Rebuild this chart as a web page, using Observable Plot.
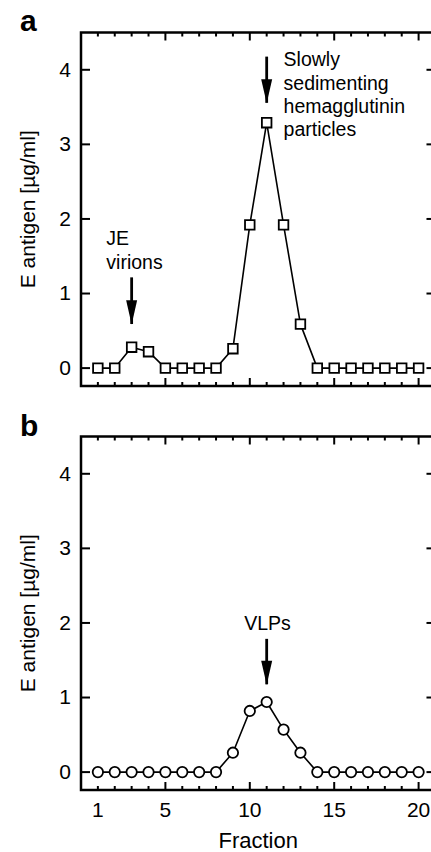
<!DOCTYPE html>
<html><head><meta charset="utf-8">
<script src="https://cdn.jsdelivr.net/npm/d3@7"></script>
<script src="https://cdn.jsdelivr.net/npm/@observablehq/plot@0.6"></script>
<style>
html,body{margin:0;padding:0;background:#fff;}
#wrap{width:431px;height:852px;overflow:hidden;}
#wrap svg{display:block;}
</style></head><body><div id="wrap"></div>
<script>
const fractions = [1,2,3,4,5,6,7,8,9,10,11,12,13,14,15,16,17,18,19,20];
const antigenA = [0,0,0.28,0.22,0,0,0,0,0.26,1.92,3.29,1.92,0.59,0,0,0,0,0,0,0];
const antigenB = [0,0,0,0,0,0,0,0,0.26,0.82,0.94,0.57,0.26,0,0,0,0,0,0,0];
const yTicks = [0,1,2,3,4];
const majorTicks = [5,10,15,20];
const minorTicks = [1,2,3,4,6,7,8,9,11,12,13,14,16,17,18,19];
const xTickLabels = [1,5,10,15,20];
const yLabel = "E antigen [µg/ml]";
const xLabel = "Fraction";

const notesA = [
  {x: 12.0, y: 4.27, text: "Slowly\nsedimenting\nhemagglutinin\nparticles", anchor: "start"},
  {x: 1.5, y: 1.87, text: "JE\nvirions", anchor: "start"}
];
const arrowsA = [
  {x: 11, top: 4.17, tip: 3.55},
  {x: 3, top: 1.21, tip: 0.585}
];
const notesB = [
  {x: 11.05, y: 2.13, text: "VLPs", anchor: "middle"}
];
const arrowsB = [
  {x: 11, top: 1.78, tip: 1.17}
];

const FONT = "'Liberation Sans', Arial, Helvetica, sans-serif";
const len = s => Math.sqrt(s / Math.PI);
const tickUp = {draw(c, s) { const r = len(s); c.moveTo(0, 0); c.lineTo(0, -r); }};
const tickDown = {draw(c, s) { const r = len(s); c.moveTo(0, 0); c.lineTo(0, r); }};
const tickRight = {draw(c, s) { const r = len(s); c.moveTo(0, 0); c.lineTo(r, 0); }};
const tickLeft = {draw(c, s) { const r = len(s); c.moveTo(0, 0); c.lineTo(-r, 0); }};
const arrowHead = {draw(c, s) { const r = len(s); c.moveTo(0, 0); c.lineTo(-r / 2, -2.2 * r); c.lineTo(r / 2, -2.2 * r); c.closePath(); }};

function panel(o) {
  const data = fractions.map((f, i) => ({fraction: f, value: o.values[i]}));
  const ts = {stroke: "black", strokeWidth: 2, fill: "none"};
  const noteStyle = {x: "x", y: "y", text: "text", lineAnchor: "top", lineHeight: 1.2, fontSize: 19.5, fill: "black"};
  const marks = [
    Plot.line(data, {x: "fraction", y: "value", stroke: "black", strokeWidth: 1.6}),
    Plot.dot(data, {x: "fraction", y: "value", symbol: o.symbol, r: o.r, fill: "white", stroke: "black", strokeWidth: 1.8}),
    Plot.frame({stroke: "black", strokeWidth: 2.5}),
    Plot.dot(minorTicks, {x: d => d, frameAnchor: "bottom", symbol: tickUp, r: 4, ...ts}),
    Plot.dot(majorTicks, {x: d => d, frameAnchor: "bottom", symbol: tickUp, r: 8, ...ts}),
    Plot.dot(minorTicks, {x: d => d, frameAnchor: "top", symbol: tickDown, r: 4, ...ts}),
    Plot.dot(majorTicks, {x: d => d, frameAnchor: "top", symbol: tickDown, r: 8, ...ts}),
    Plot.dot(yTicks, {y: d => d, frameAnchor: "left", symbol: tickRight, r: 9, ...ts}),
    Plot.dot(yTicks, {y: d => d, frameAnchor: "right", symbol: tickLeft, r: 9, ...ts}),
    Plot.axisY({ticks: yTicks, tickFormat: d3.format("d"), tickSize: 0, tickPadding: 10, fontSize: 21, label: null}),
    Plot.text([yLabel], {text: d => d, frameAnchor: "left", textAnchor: "middle", lineAnchor: "middle", rotate: -90, dx: -52.5, fontSize: 21, fill: "black"}),
    Plot.ruleX(o.arrows, {x: "x", y1: "top", y2: "tip", stroke: "black", strokeWidth: 2.8}),
    Plot.dot(o.arrows, {x: "x", y: "tip", symbol: arrowHead, r: 11, fill: "black", stroke: "none"}),
    Plot.text(o.notes.filter(d => d.anchor === "start"), {...noteStyle, textAnchor: "start"}),
    Plot.text(o.notes.filter(d => d.anchor === "middle"), {...noteStyle, textAnchor: "middle"}),
    Plot.text([o.letter], {text: d => d, frameAnchor: "top-left", dx: -61, dy: o.letterDy, lineAnchor: "bottom", textAnchor: "start", fontSize: 30, fontWeight: "bold", fill: "black"})
  ];
  if (o.xAxis) {
    marks.push(Plot.axisX({ticks: xTickLabels, tickFormat: d3.format("d"), tickSize: 0, tickPadding: 12, fontSize: 21, label: null}));
    marks.push(Plot.text([xLabel], {text: d => d, frameAnchor: "bottom", textAnchor: "middle", dy: 58, lineAnchor: "bottom", fontSize: 22, fill: "black"}));
  }
  return Plot.plot({
    width: 440,
    height: o.height,
    marginLeft: 80.5,
    marginRight: 440 - 80.5 - 21 * 16.88,
    marginTop: o.marginTop,
    marginBottom: o.height - o.marginTop - 353.5,
    x: {domain: [0, 21], axis: null},
    y: {domain: [-0.24, 4.5], axis: null},
    style: {fontFamily: FONT, color: "black", background: "white", maxWidth: "none", overflow: "visible"},
    marks
  });
}

const wrap = document.getElementById("wrap");
wrap.appendChild(panel({letter: "a", letterDy: -1.3, values: antigenA, symbol: "square", r: 5.4, notes: notesA, arrows: arrowsA, height: 396, marginTop: 32, xAxis: false}));
wrap.appendChild(panel({letter: "b", letterDy: -0.5, values: antigenB, symbol: "circle", r: 5.2, notes: notesB, arrows: arrowsB, height: 456, marginTop: 40, xAxis: true}));
</script>
</body></html>
